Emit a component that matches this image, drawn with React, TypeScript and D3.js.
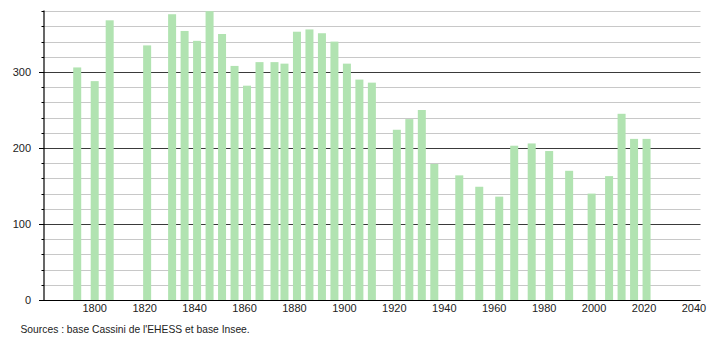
import React from "react";
import * as d3 from "d3";

const years = [1793, 1800, 1806, 1821, 1831, 1836, 1841, 1846, 1851, 1856, 1861, 1866, 1872, 1876, 1881, 1886, 1891, 1896, 1901, 1906, 1911, 1921, 1926, 1931, 1936, 1946, 1954, 1962, 1968, 1975, 1982, 1990, 1999, 2006, 2011, 2016, 2021];
const population = [306, 288, 368, 335, 376, 354, 341, 380, 350, 308, 282, 313, 313, 311, 353, 356, 351, 340, 311, 290, 286, 224, 238, 250, 179, 164, 149, 136, 203, 206, 196, 170, 140, 163, 245, 212, 212];
const xTicks = [1800, 1820, 1840, 1860, 1880, 1900, 1920, 1940, 1960, 1980, 2000, 2020, 2040];
const yMajor = [0, 100, 200, 300];
const yMinor = d3.range(20, 381, 20);
const source = "Sources : base Cassini de l'EHESS et base Insee.";

export default function App() {
  const W = 710, H = 340;
  const left = 44, right = 700.5, bottom = 300, top = 10.5;
  const x = d3.scaleLinear().domain([1800, 2040]).range([94.7, 694]);
  const y = d3.scaleLinear().domain([0, 380]).range([bottom, 11.2]);
  const barW = 8;
  const font = "'Liberation Sans', Arial, Helvetica, sans-serif";
  return (
    <svg width={W} height={H} style={{ position: "absolute", left: 0, top: 0, background: "#fff" }}>
      <rect x={0} y={0} width={W} height={H} fill="#fff" />
      {yMinor.map((v) => (
        <line key={"g" + v} x1={left} x2={right} y1={Math.round(y(v)) + 0.5} y2={Math.round(y(v)) + 0.5}
          stroke={v % 100 === 0 ? "#3a3a3a" : "#c8c8c8"} strokeWidth={1} />
      ))}
      {years.map((yr, i) => (
        <rect key={yr} x={x(yr) - barW / 2} y={y(population[i])} width={barW} height={bottom - y(population[i])} fill="#b1e3b1" />
      ))}
      <line x1={left} x2={left} y1={top} y2={bottom + 0.5} stroke="#000" strokeWidth={1.2} />
      <line x1={left} x2={right} y1={bottom + 0.5} y2={bottom + 0.5} stroke="#000" strokeWidth={1.2} />
      {yMinor.map((v) => (
        <line key={"t" + v} x1={left - (v % 100 === 0 ? 5 : 2.5)} x2={left} y1={Math.round(y(v)) + 0.5} y2={Math.round(y(v)) + 0.5} stroke="#000" strokeWidth={1} />
      ))}
      <line x1={left - 5} x2={left} y1={bottom + 0.5} y2={bottom + 0.5} stroke="#000" strokeWidth={1} />
      {yMajor.map((v) => (
        <text key={"yl" + v} x={31} y={y(v)} dy="0.35em" textAnchor="end" fontFamily={font} fontSize={11} fill="#222">{v}</text>
      ))}
      {xTicks.map((t) => (
        <text key={"xl" + t} x={x(t)} y={308} dy="0.35em" textAnchor="middle" fontFamily={font} fontSize={11} fill="#222">{t}</text>
      ))}
      <text x={20.5} y={329} dy="0.35em" fontFamily={font} fontSize={10.3} fill="#222">{source}</text>
    </svg>
  );
}
